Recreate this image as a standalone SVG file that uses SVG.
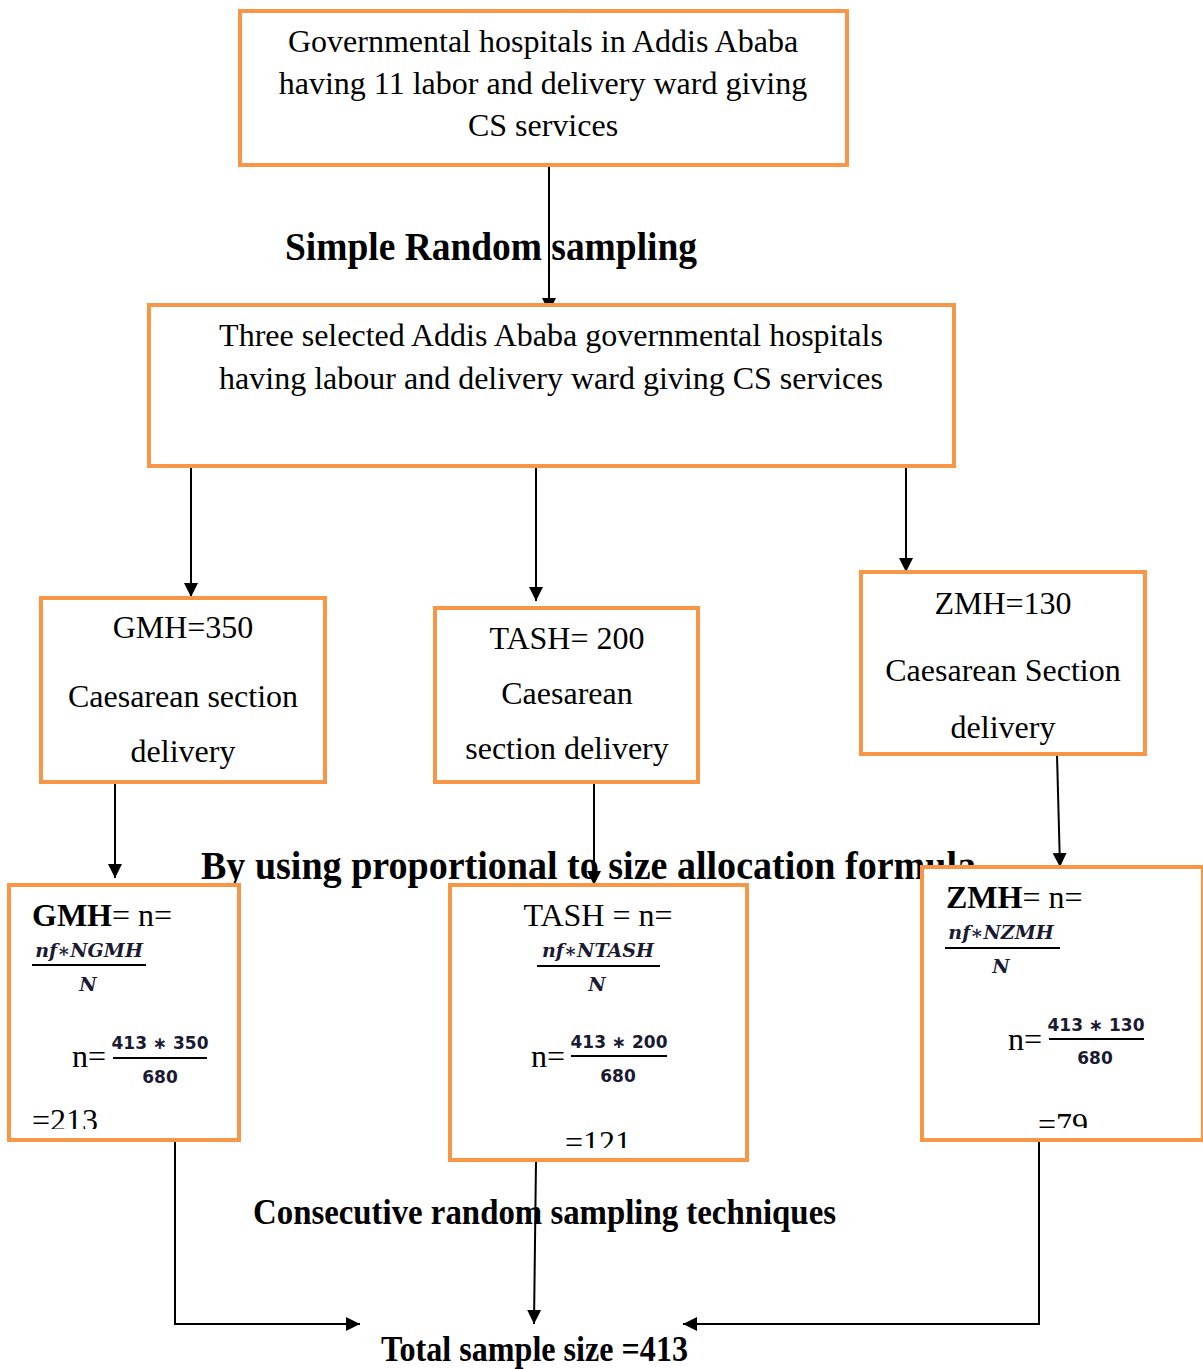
<svg xmlns="http://www.w3.org/2000/svg" width="1203" height="1369" viewBox="0 0 1203 1369">
<style>
.box{fill:#fff;stroke:#F79646;stroke-width:4}
.t{font-family:"Liberation Serif","Times New Roman",serif;font-size:32px;fill:#000}
.b{font-family:"Liberation Serif","Times New Roman",serif;font-weight:bold;fill:#000}
.m{font-family:"DejaVu Serif",serif;font-style:italic;font-weight:bold;font-size:19px;fill:#1a1a33}
.d{font-family:"DejaVu Sans",sans-serif;font-weight:bold;font-size:17px;fill:#1a1a33}
.c{fill:none;stroke:#000;stroke-width:2}
.fl{stroke:#000;stroke-width:2}
</style>
<defs>
<marker id="ah" markerWidth="14" markerHeight="16" refX="14" refY="8" orient="auto" markerUnits="userSpaceOnUse">
<path d="M0,1 L14,8 L0,15 Z" fill="#000"/>
</marker>
<clipPath id="cg"><rect x="0" y="1090" width="260" height="39"/></clipPath>
<clipPath id="ct"><rect x="440" y="1110" width="320" height="38"/></clipPath>
<clipPath id="cz"><rect x="920" y="1090" width="283" height="38"/></clipPath>
</defs>

<g id="labels">
<text class="b" x="285" y="260" font-size="40" textLength="412" lengthAdjust="spacingAndGlyphs">Simple Random sampling</text>
<text class="b" x="201" y="879" font-size="39" textLength="775" lengthAdjust="spacingAndGlyphs">By using proportional to size allocation formula</text>
<text class="b" x="253" y="1224" font-size="36" textLength="583" lengthAdjust="spacingAndGlyphs">Consecutive random   sampling techniques</text>
<text class="b" x="381" y="1361" font-size="35" textLength="307" lengthAdjust="spacingAndGlyphs">Total sample size =413</text>
</g>

<g id="connectors">
<line class="c" x1="549" y1="166" x2="549" y2="312" marker-end="url(#ah)"/>
<line class="c" x1="191" y1="466" x2="191" y2="597" marker-end="url(#ah)"/>
<line class="c" x1="536" y1="466" x2="536" y2="601" marker-end="url(#ah)"/>
<line class="c" x1="906" y1="466" x2="906" y2="572" marker-end="url(#ah)"/>
<line class="c" x1="115" y1="783" x2="115" y2="878" marker-end="url(#ah)"/>
<line class="c" x1="594" y1="783" x2="594" y2="885" marker-end="url(#ah)"/>
<line class="c" x1="1057" y1="755" x2="1060" y2="867" marker-end="url(#ah)"/>
<polyline class="c" points="168,1141 175,1141 175,1324 360,1324" marker-end="url(#ah)"/>
<line class="c" x1="536" y1="1161" x2="534" y2="1324" marker-end="url(#ah)"/>
<polyline class="c" points="1039,1141 1039,1324 683,1324" marker-end="url(#ah)"/>
</g>

<g id="n-top">
<rect class="box" x="240" y="11" width="607" height="154"/>
<text class="t" x="543" y="52" text-anchor="middle">Governmental hospitals in Addis Ababa</text>
<text class="t" x="543" y="94" text-anchor="middle">having 11 labor and delivery ward giving</text>
<text class="t" x="543" y="136" text-anchor="middle">CS services</text>
</g>

<g id="n-selected">
<rect class="box" x="149" y="305" width="805" height="161"/>
<text class="t" x="551" y="346" text-anchor="middle">Three selected Addis Ababa governmental hospitals</text>
<text class="t" x="551" y="389" text-anchor="middle">having labour and delivery ward giving CS services</text>
</g>

<g id="n-gmh">
<rect class="box" x="41" y="598" width="284" height="184"/>
<text class="t" x="183" y="638" text-anchor="middle">GMH=350</text>
<text class="t" x="183" y="707" text-anchor="middle">Caesarean section</text>
<text class="t" x="183" y="762" text-anchor="middle">delivery</text>
</g>

<g id="n-tash">
<rect class="box" x="435" y="608" width="263" height="174"/>
<text class="t" x="567" y="649" text-anchor="middle">TASH= 200</text>
<text class="t" x="567" y="704" text-anchor="middle">Caesarean</text>
<text class="t" x="567" y="759" text-anchor="middle">section delivery</text>
</g>

<g id="n-zmh">
<rect class="box" x="861" y="572" width="284" height="182"/>
<text class="t" x="1003" y="614" text-anchor="middle">ZMH=130</text>
<text class="t" x="1003" y="681" text-anchor="middle">Caesarean Section</text>
<text class="t" x="1003" y="738" text-anchor="middle">delivery</text>
</g>

<g id="n-gmh-formula">
<rect class="box" x="9" y="885" width="230" height="255"/>
<text class="t" x="32" y="926"><tspan font-weight="bold">GMH</tspan>= n=</text>
<text class="m" x="89" y="957" text-anchor="middle">nf∗NGMH</text>
<line class="fl" x1="32" y1="965" x2="146" y2="965"/>
<text class="m" x="88" y="991" text-anchor="middle">N</text>
<text class="t" x="72" y="1067">n=</text>
<text class="d" x="160" y="1049" text-anchor="middle">413 ∗ 350</text>
<line class="fl" x1="113" y1="1058" x2="207" y2="1058"/>
<text class="d" x="160" y="1083" text-anchor="middle">680</text>
<text class="t" x="32" y="1131" font-size="36" clip-path="url(#cg)">=213</text>
</g>

<g id="n-tash-formula">
<rect class="box" x="450" y="885" width="297" height="275"/>
<text class="t" x="598" y="926" text-anchor="middle">TASH = n=</text>
<text class="m" x="598" y="957" text-anchor="middle">nf∗NTASH</text>
<line class="fl" x1="537" y1="966" x2="660" y2="966"/>
<text class="m" x="597" y="991" text-anchor="middle">N</text>
<text class="t" x="531" y="1067">n=</text>
<text class="d" x="619" y="1048" text-anchor="middle">413 ∗ 200</text>
<line class="fl" x1="571" y1="1056" x2="667" y2="1056"/>
<text class="d" x="618" y="1082" text-anchor="middle">680</text>
<text class="t" x="598" y="1153" text-anchor="middle" font-size="34" clip-path="url(#ct)">=121</text>
</g>

<g id="n-zmh-formula">
<rect class="box" x="922" y="867" width="281" height="273"/>
<text class="t" x="946" y="908"><tspan font-weight="bold">ZMH</tspan>= n=</text>
<text class="m" x="1001" y="939" text-anchor="middle">nf∗NZMH</text>
<line class="fl" x1="945" y1="948" x2="1060" y2="948"/>
<text class="m" x="1001" y="973" text-anchor="middle">N</text>
<text class="t" x="1008" y="1050">n=</text>
<text class="d" x="1096" y="1031" text-anchor="middle">413 ∗ 130</text>
<line class="fl" x1="1049" y1="1039" x2="1144" y2="1039"/>
<text class="d" x="1095" y="1064" text-anchor="middle">680</text>
<text class="t" x="1063" y="1135" text-anchor="middle" font-size="36" clip-path="url(#cz)">=79</text>
</g>
</svg>
